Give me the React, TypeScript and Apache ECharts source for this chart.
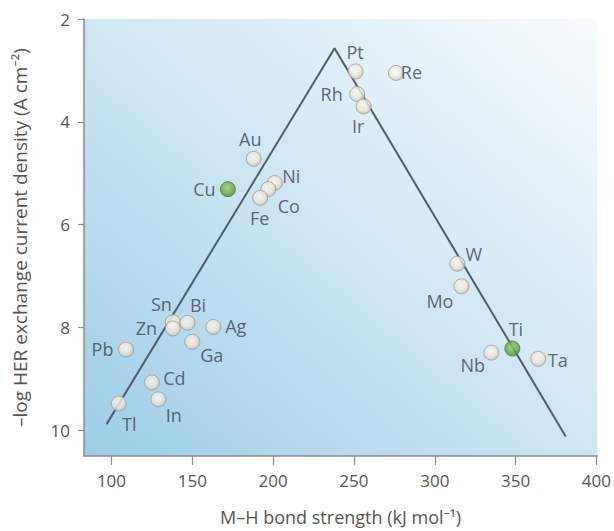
import React, { useEffect, useRef } from "react";
import * as echarts from "echarts";

// ---- data ----
const elements = ["Pt", "Re", "Rh", "Ir", "Au", "Cu", "Ni", "Co", "Fe", "Sn", "Bi", "Zn", "Ag", "Ga", "Pb", "Cd", "In", "Tl", "W", "Mo", "Ti", "Nb", "Ta"];
const bondStrength = [251, 276, 252, 256, 188, 172, 201, 197, 192, 138, 147, 138, 163, 150, 109, 125, 129, 104.5, 314, 316.5, 348, 335, 364];
const logExchangeCurrent = [3.02, 3.05, 3.46, 3.7, 4.72, 5.31, 5.19, 5.31, 5.48, 7.9, 7.91, 8.02, 7.99, 8.28, 8.43, 9.07, 9.4, 9.48, 6.76, 7.2, 8.41, 8.49, 8.61];
const highlighted = ["Cu", "Ti"];
const volcanoX = [97, 238, 381];
const volcanoY = [9.88, 2.57, 10.12];
const xTicks = [100, 150, 200, 250, 300, 350, 400];
const yTicks = [2, 4, 6, 8, 10];

// ---- label placement (style): text centre offset from marker centre, px ----
const labelOffsets: Record<string, [number, number]> = {
  Pt: [0, -19], Re: [16, 0], Rh: [-25, 0], Ir: [-5, 20], Au: [-3, -19], Cu: [-23, 0],
  Ni: [17, -7], Co: [21, 17], Fe: [0, 21], Sn: [-11, -18], Bi: [11, -17], Zn: [-26, 0],
  Ag: [23, 0], Ga: [20, 14], Pb: [-23, 0], Cd: [23, -4], In: [16, 16], Tl: [11, 21],
  W: [17, -9], Mo: [-21, 15], Ti: [4, -19], Nb: [-18, 13], Ta: [20, 2],
};

const SYM = 15;
const FONT = "'Open Sans', 'Noto Sans', sans-serif";

export default function App() {
  const ref = useRef<HTMLDivElement>(null);
  useEffect(() => {
    if (!ref.current) return;
    const chart = echarts.init(ref.current, undefined, { renderer: "svg" });

    const normalFill = new echarts.graphic.RadialGradient(0.45, 0.4, 0.6, [
      { offset: 0, color: "#fbf8f1" },
      { offset: 0.6, color: "#ece7dc" },
      { offset: 1, color: "#c9c3b5" },
    ]);
    const greenFill = new echarts.graphic.RadialGradient(0.45, 0.4, 0.6, [
      { offset: 0, color: "#9ccd74" },
      { offset: 0.6, color: "#6fab4a" },
      { offset: 1, color: "#4f8a30" },
    ]);

    const points = elements.map((el, i) => {
      const off = labelOffsets[el] || [0, -18];
      const green = highlighted.includes(el);
      return {
        name: el,
        value: [bondStrength[i], logExchangeCurrent[i]],
        itemStyle: {
          color: green ? greenFill : normalFill,
          borderColor: green ? "#4d7f34" : "#a39e92",
          borderWidth: 1,
        },
        label: {
          show: true,
          formatter: el,
          position: [SYM / 2 + off[0], SYM / 2 + off[1]],
          align: "center",
          verticalAlign: "middle",
        },
      };
    });

    chart.setOption({
      animation: false,
      backgroundColor: "#ffffff",
      textStyle: { fontFamily: FONT },
      grid: {
        left: 84,
        right: 16,
        top: 19,
        bottom: 75,
        show: true,
        borderWidth: 0,
        backgroundColor: new echarts.graphic.LinearGradient(0, 1, 1, 0, [
          { offset: 0, color: "#9ccde9" },
          { offset: 0.5, color: "#cfe6f3" },
          { offset: 1, color: "#f8fbfd" },
        ]),
      },
      xAxis: {
        type: "value",
        min: 83,
        max: 400.5,
        name: "M–H bond strength (kJ mol⁻¹)",
        nameLocation: "middle",
        nameGap: 52,
        nameTextStyle: { color: "#555", fontSize: 18, fontFamily: FONT },
        axisLine: { show: true, lineStyle: { color: "#8a8a8a", width: 1.5 } },
        axisTick: { show: true, length: 9, customValues: xTicks, lineStyle: { color: "#8a8a8a", width: 1.2 } },
        axisLabel: { customValues: xTicks, color: "#555", fontSize: 17, margin: 16, fontFamily: FONT },
        splitLine: { show: false },
      },
      yAxis: {
        type: "value",
        inverse: true,
        min: 2,
        max: 10.5,
        name: "–log HER exchange current density (A cm⁻²)",
        nameLocation: "middle",
        nameRotate: 90,
        nameGap: 55,
        nameTextStyle: { color: "#555", fontSize: 19, fontFamily: FONT },
        axisLine: { show: true, lineStyle: { color: "#8a8a8a", width: 1.5 } },
        axisTick: { show: true, length: 6, customValues: yTicks, lineStyle: { color: "#8a8a8a", width: 1.2 } },
        axisLabel: { customValues: yTicks, color: "#555", fontSize: 17, margin: 14, fontFamily: FONT },
        splitLine: { show: false },
      },
      series: [
        {
          type: "line",
          data: volcanoX.map((x, i) => [x, volcanoY[i]]),
          symbol: "none",
          lineStyle: { color: "#4f5e6c", width: 2 },
          z: 2,
          silent: true,
        },
        {
          type: "scatter",
          symbol: "circle",
          symbolSize: SYM,
          data: points,
          label: { color: "#3b4451", fontSize: 18, fontFamily: FONT },
          z: 3,
        },
      ],
    });
    return () => chart.dispose();
  }, []);
  return (
    <div
      ref={ref}
      style={{ position: "fixed", left: 0, top: 0, width: 614, height: 531 }}
    />
  );
}
